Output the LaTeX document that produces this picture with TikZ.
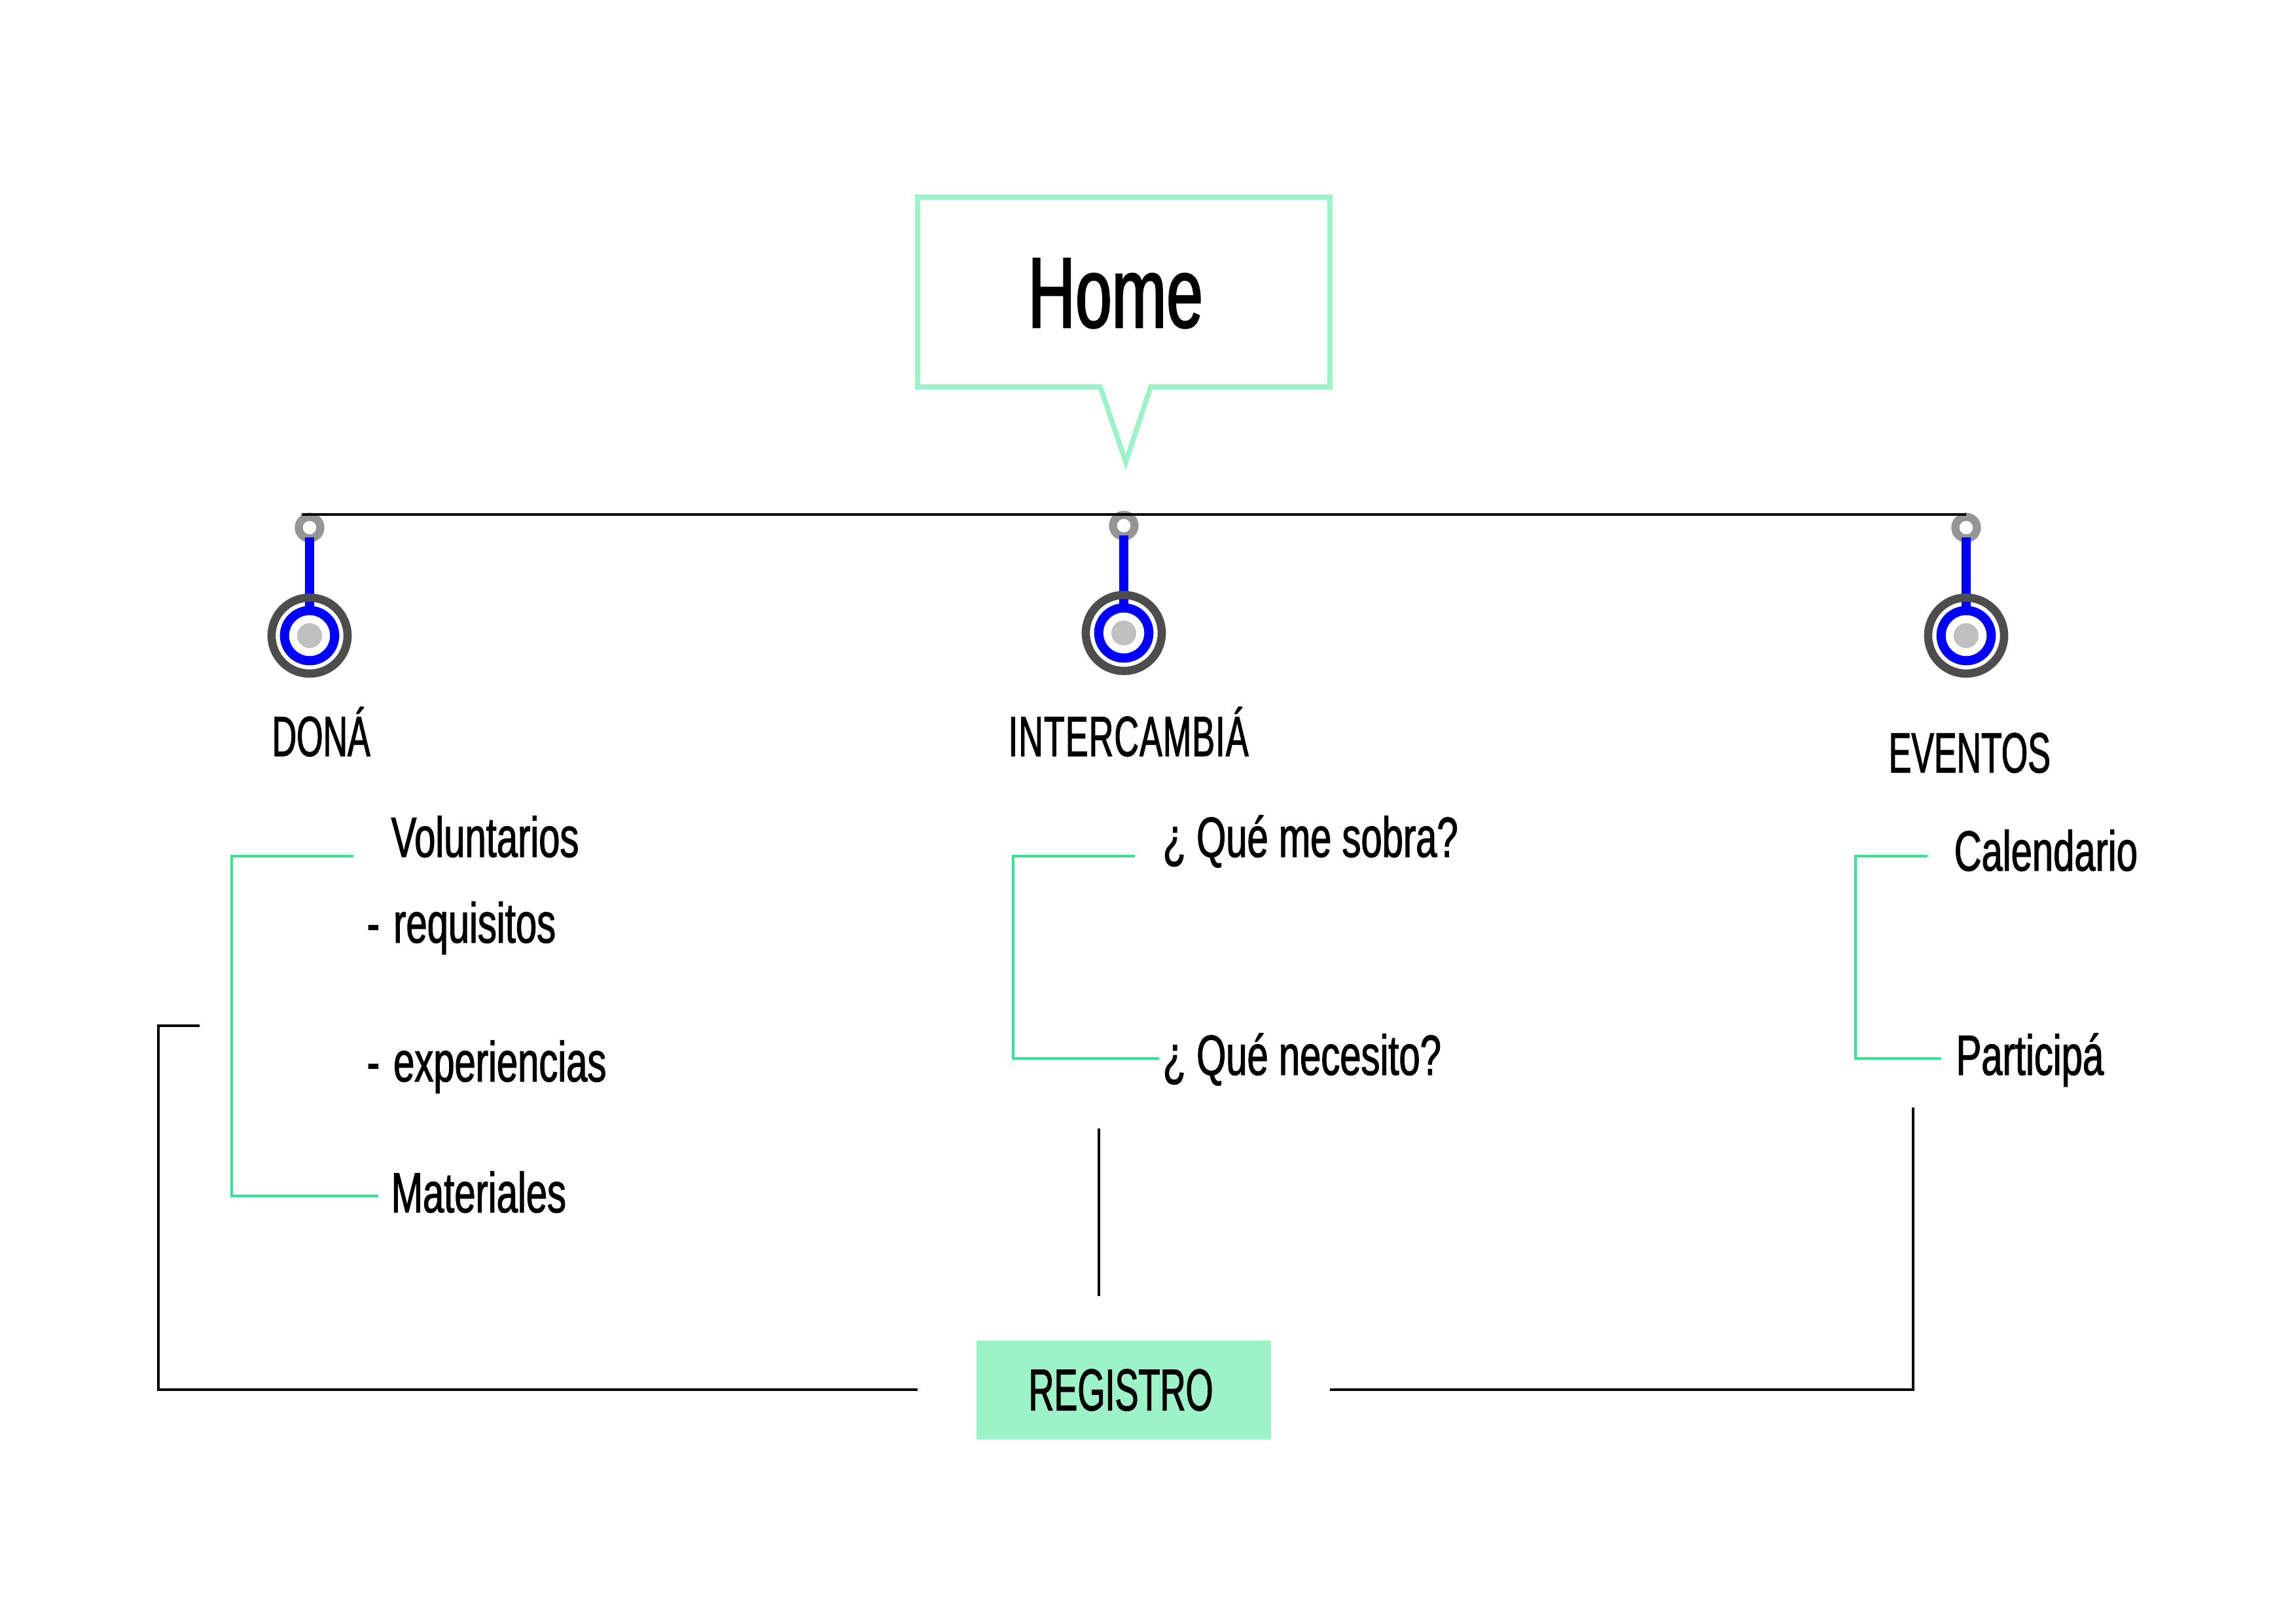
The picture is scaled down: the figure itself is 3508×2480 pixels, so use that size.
\documentclass[tikz,border=0pt]{standalone}
\usepackage{fontspec}
\setmainfont{Liberation Sans}
\newfontfamily\bodyfont[FakeStretch=0.67,FakeBold=1.3]{Liberation Sans}
\newfontfamily\headfont[FakeStretch=0.6,FakeBold=1.3]{Liberation Sans}
\newfontfamily\homefont[FakeStretch=0.655,FakeBold=1.6]{Liberation Sans}
\definecolor{mymint}{HTML}{9CF3C7}
\definecolor{mygreen}{HTML}{34E58F}
\definecolor{mygray}{HTML}{959595}
\definecolor{mydark}{HTML}{4D4D4D}
\definecolor{mydot}{HTML}{C0C0C0}
\tikzset{
	itemnode/.style={
			anchor=base west,
			inner sep=0pt,
			font=\bodyfont\fontsize{24.6}{28}\selectfont
		},
	headnode/.style={
			itemnode,
			font=\headfont\fontsize{24.6}{28}\selectfont
		},
	homenode/.style={
			itemnode,
			font=\homefont\fontsize{43.5}{48}\selectfont
		},
	registronode/.style={
			rectangle,
			fill=mymint,
			inner sep=0pt,
			minimum width=45mm,
			minimum height=15.1mm,
			font=\headfont\fontsize{25.6}{28}\selectfont
		},
	ringnode/.style={
			circle,
			draw=mygray,
			fill=white,
			line width=1.23mm,
			minimum size=3.3mm,
			inner sep=0pt
		},
	bluenode/.style={
			circle,
			draw=blue,
			fill=white,
			line width=1.4mm,
			minimum size=7.66mm,
			inner sep=0pt
		},
	outernode/.style={
			circle,
			draw=mydark,
			line width=1.26mm,
			minimum size=11.6mm,
			inner sep=0pt
		},
	dotnode/.style={
			circle,
			fill=mydot,
			minimum size=3.8mm,
			inner sep=0pt
		},
	bubbleline/.style={draw=mymint, line width=0.78mm},
	blueline/.style={draw=blue, line width=1.37mm, shorten <=-0.8mm},
	greenline/.style={draw=mygreen, line width=0.42mm},
	blackline/.style={draw=black, line width=0.45mm}
}
\begin{document}
\begin{tikzpicture}[x=0.01cm, y=-0.01cm]
\useasboundingbox (0,0) rectangle (3508,2480);

% bubble
\draw[bubbleline] (1402,301) -- (2032,301) -- (2032,591) -- (1758,591) -- (1720,706) -- (1681,591) -- (1402,591) -- cycle;
\node[homenode] (home) at (1570,500) {Home};

% stems
\node[ringnode] (ring1) at (473,806) {};
\node[ringnode] (ring2) at (1717,803) {};
\node[ringnode] (ring3) at (3004,806) {};
\node[bluenode] (blue1) at (473,971) {};
\node[bluenode] (blue2) at (1717,967) {};
\node[bluenode] (blue3) at (3004,971) {};
\draw[blueline] (ring1) -- (blue1);
\draw[blueline] (ring2) -- (blue2);
\draw[blueline] (ring3) -- (blue3);
\node[outernode] (outer1) at (473,971) {};
\node[outernode] (outer2) at (1717,967) {};
\node[outernode] (outer3) at (3004,971) {};
\node[dotnode] (dot1) at (473,971) {};
\node[dotnode] (dot2) at (1717,967) {};
\node[dotnode] (dot3) at (3004,971) {};

\coordinate (topleft) at (461,786);
\coordinate (topright) at (3004,786);
\draw[blackline] (topleft) -- (topright);

% headings
\node[headnode] (dona) at (415,1155) {DONÁ};
\node[headnode] (inter) at (1540,1155) {\addfontfeature{LetterSpace=1.4}INTERCAMBIÁ};
\node[headnode] (eventos) at (2885,1180) {EVENTOS};

% items
\node[itemnode] (voluntarios) at (597,1309) {Voluntarios};
\node[itemnode] (requisitos) at (560,1440) {-\kern0.5mm{} requisitos};
\node[itemnode] (experiencias) at (560,1652) {-\kern0.5mm{} experiencias};
\node[itemnode] (materiales) at (597,1852) {Materiales};
\node[itemnode] (sobra) at (1776,1309) {¿ Qué me sobra?};
\node[itemnode] (necesito) at (1776,1642) {¿ Qué necesito?};
\node[itemnode] (calendario) at (2985,1330) {Calendario};
\node[itemnode] (participa) at (2988,1642) {Participá};

% green brackets
\coordinate (g1a) at (540,1308);
\coordinate (g1b) at (354,1308);
\coordinate (g1c) at (354,1827);
\coordinate (g1d) at (578,1827);
\draw[greenline] (g1a) -- (g1b) -- (g1c) -- (g1d);
\coordinate (g2a) at (1734,1308);
\coordinate (g2b) at (1548,1308);
\coordinate (g2c) at (1548,1617);
\coordinate (g2d) at (1771,1617);
\draw[greenline] (g2a) -- (g2b) -- (g2c) -- (g2d);
\coordinate (g3a) at (2945,1308);
\coordinate (g3b) at (2835,1308);
\coordinate (g3c) at (2835,1617);
\coordinate (g3d) at (2966,1617);
\draw[greenline] (g3a) -- (g3b) -- (g3c) -- (g3d);

% registro
\node[registronode] (registro) at (1717,2123.5) {REGISTRO\kern0.9mm};
\coordinate (b1a) at (305,1567);
\coordinate (b1b) at (242,1567);
\coordinate (b1c) at (242,2123);
\coordinate (b1d) at (1402,2123);
\draw[blackline] (b1a) -- (b1b) -- (b1c) -- (b1d);
\coordinate (b2a) at (1679,1724);
\coordinate (b2b) at (1679,1980);
\draw[blackline] (b2a) -- (b2b);
\coordinate (b3a) at (2032,2123);
\coordinate (b3b) at (2923,2123);
\coordinate (b3c) at (2923,1692);
\draw[blackline] (b3a) -- (b3b) -- (b3c);

\end{tikzpicture}
\end{document}
